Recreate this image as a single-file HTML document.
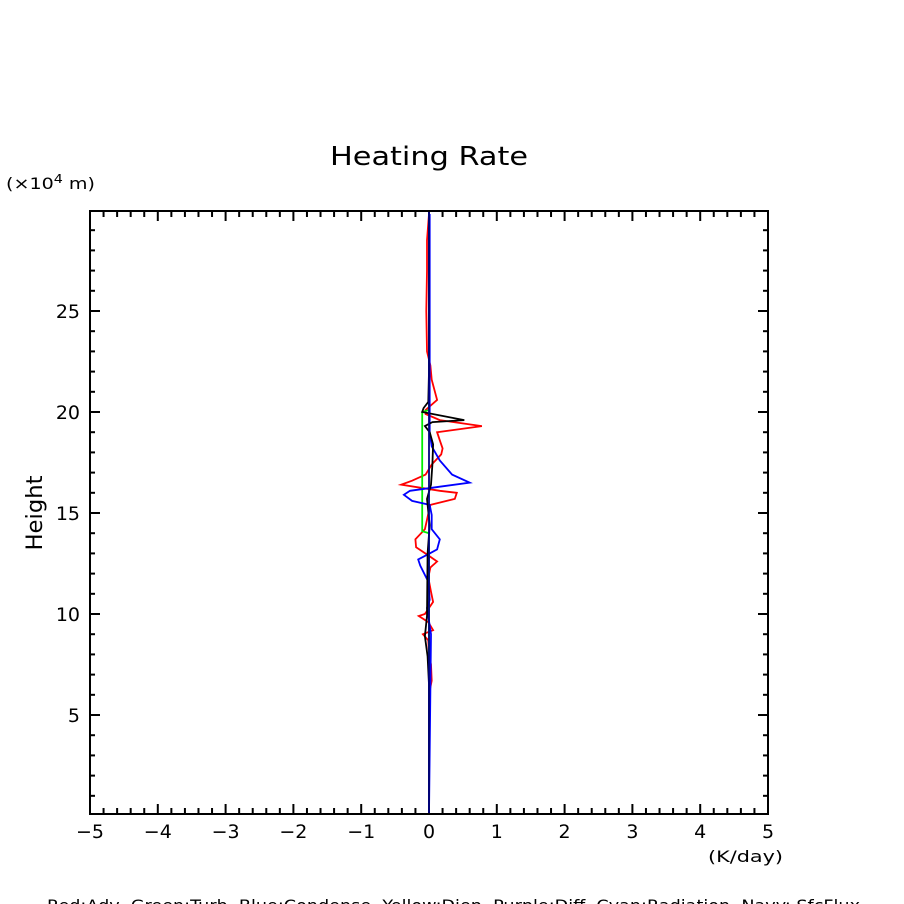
<!DOCTYPE html>
<html><head><meta charset="utf-8"><style>
html,body{margin:0;padding:0;background:#fff;}
svg{display:block;font-family:"DejaVu Sans","Liberation Sans",sans-serif;}
text{white-space:pre;}
</style></head><body>
<svg id="chart" width="904" height="904" viewBox="0 0 904 904">
<rect width="904" height="904" fill="#fff"/>
<text x="330" y="165" font-size="26" textLength="198" lengthAdjust="spacingAndGlyphs">Heating Rate</text>
<text x="6" y="189" font-size="16" textLength="89" lengthAdjust="spacingAndGlyphs">(×10<tspan dy="-6" font-size="12">4</tspan><tspan dy="6"> m)</tspan></text>
<text x="42" y="513" font-size="22" text-anchor="middle" textLength="75" lengthAdjust="spacingAndGlyphs" transform="rotate(-90 42 513)">Height</text>
<text x="708" y="862" font-size="16" textLength="75" lengthAdjust="spacingAndGlyphs">(K/day)</text>
<text x="47" y="911" font-size="16" textLength="813" lengthAdjust="spacingAndGlyphs">Red:Adv  Green:Turb  Blue:Condense  Yellow:Diep  Purple:Diff  Cyan:Radiation  Navy: SfcFlux</text>
<g id="ticks"></g>
<g id="series"></g>
<rect x="90" y="211" width="678" height="603" fill="none" stroke="#000" stroke-width="2"/>
</svg>
<script>
const xTicks=[-5,-4,-3,-2,-1,0,1,2,3,4,5];
const yTicks=[5,10,15,20,25];
const redH=[29.8,28.5,27,25,23,22.3,21.6,20.6,20.1,19.9,19.6,19.3,19.0,18.6,18.2,17.9,17.4,16.9,16.6,16.4,16.1,16.0,15.7,15.4,14.8,14.2,13.7,13.3,12.9,12.6,12.3,11.8,11.1,10.6,10.0,9.9,9.6,9.2,9.0,8.7,8.0,7.5,6.7,6.2,5.5,0.1];
const redV=[0,-0.03,-0.03,-0.04,-0.03,0.02,0.04,0.12,-0.05,-0.05,0.16,0.78,0.12,0.16,0.2,0.18,0.04,-0.05,-0.25,-0.41,0.16,0.41,0.38,0.02,-0.02,-0.06,-0.2,-0.19,-0.01,0.12,0.02,-0.01,0.03,0.06,-0.06,-0.15,-0.01,0.06,-0.09,-0.01,0,0.03,0.04,0.01,0,0];
const greenH=[29.8,20.1,20.0,14.1,14.0,0.1];
const greenV=[0,0,-0.1,-0.1,0,0];
const blueH=[29.8,19.0,18.3,17.6,16.9,16.5,16.3,16.1,15.9,15.6,15.4,14.9,14.2,13.7,13.2,13.0,12.7,12.4,11.6,10.7,10.3,9.0,0.1];
const blueV=[0.01,0.01,0.04,0.16,0.34,0.6,0.16,-0.28,-0.37,-0.25,0.01,0.04,0.04,0.16,0.12,0.01,-0.16,-0.13,-0.01,0.01,-0.03,0.03,0];
const blackH=[29.8,22,20.5,20.2,20.0,19.6,19.5,19.3,19.0,18.4,17.4,16.4,15.7,14.4,13.0,9.9,8.9,7.9,6.5,0.1];
const blackV=[0,0,-0.01,-0.08,-0.1,0.52,0.05,-0.06,0.01,0.06,0.05,0.03,-0.03,0.01,-0.02,-0.03,-0.06,-0.02,0,0];
const navyH=[30,0.1];
const navyV=[0,0];
const X0=90,X1=768,YB=814,YT=211,HMIN=0.1,HMAX=29.95;
function sx(v){return X0+(v+5)/10*(X1-X0);}
function sy(h){return YB-(h-HMIN)/(HMAX-HMIN)*(YB-YT);}
const NS="http://www.w3.org/2000/svg";
const tg=document.getElementById('ticks');
function line(x1,y1,x2,y2,name){const l=document.createElementNS(NS,'line');l.setAttribute('x1',x1);l.setAttribute('y1',y1);l.setAttribute('x2',x2);l.setAttribute('y2',y2);l.setAttribute('stroke','#000');l.setAttribute('stroke-width','2');


tg.appendChild(l);}
for(let i=-25;i<=25;i++){const v=i/5;const major=i%5===0;const L=major?10:6;const x=sx(v);line(x,YB,x,YB-L,'x-tick');line(x,YT,x,YT+L,'x-tick');}
for(let h=1;h<=29;h++){const major=h%5===0;const L=major?10:5;const y=sy(h);line(X0,y,X0+L,y,'y-tick');line(X1,y,X1-L,y,'y-tick');}
xTicks.forEach(v=>{const t=document.createElementNS(NS,'text');t.setAttribute('x',sx(v));t.setAttribute('y',YB+24);t.setAttribute('font-size','19');t.setAttribute('text-anchor','middle');t.textContent=(v<0?'\u2212'+(-v):String(v));


tg.appendChild(t);});
yTicks.forEach(h=>{const t=document.createElementNS(NS,'text');t.setAttribute('x',X0-10);t.setAttribute('y',sy(h)+7);t.setAttribute('font-size','19');t.setAttribute('text-anchor','end');t.textContent=String(h);


tg.appendChild(t);});
const sg=document.getElementById('series');
function series(H,V,color,name){const p=document.createElementNS(NS,'polyline');p.setAttribute('points',H.map((h,i)=>sx(V[i]).toFixed(1)+','+sy(h).toFixed(1)).join(' '));p.setAttribute('fill','none');p.setAttribute('stroke',color);p.setAttribute('stroke-width','1.8');


sg.appendChild(p);}
series(redH,redV,'#ff0000','adv-line');
series(greenH,greenV,'#00ee00','turb-line');
series(blueH,blueV,'#0000ff','condense-line');
series(blackH,blackV,'#000000','total-line');
series(navyH,navyV,'#000080','sfcflux-line');
</script>
</body></html>
